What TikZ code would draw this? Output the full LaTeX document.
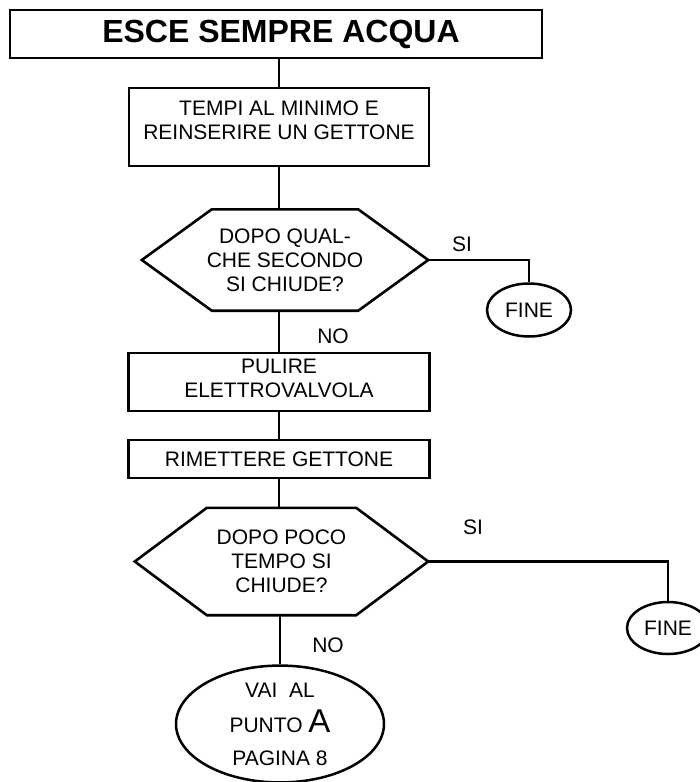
\documentclass[tikz,border=0pt]{standalone}
\usepackage{fontspec}
\setmainfont{Liberation Sans}
\definecolor{inkBlack}{HTML}{000000}
\usepackage{tikz}
\usetikzlibrary{calc, positioning, shapes.geometric}

\tikzset{
  stepbox/.style={draw=inkBlack, line width=2.7pt, align=center, inner sep=0pt,
                  font=\fontsize{21}{24}\selectfont},
  askbox/.style={align=center, inner sep=0pt, font=\fontsize{21}{24}\selectfont},
  askline/.style={draw=inkBlack, line width=2.6pt, line join=miter},
  endcap/.style={ellipse, draw=inkBlack, line width=2.5pt, inner sep=0pt, align=center,
                 font=\fontsize{21}{24}\selectfont},
  flowline/.style={draw=inkBlack, line width=2.3pt},
  branchtag/.style={inner sep=0pt, font=\fontsize{21}{24}\selectfont}
}

\begin{document}
\begin{tikzpicture}[x=1pt, y=-1pt]
  \useasboundingbox (0,0) rectangle (700,782);

  % main column
  \node[stepbox, minimum width=532pt, minimum height=48pt,
        font=\fontsize{32}{36}\selectfont\bfseries] (title) at (276,34) {\hspace{10pt}ESCE SEMPRE ACQUA};
  \node[stepbox, minimum width=300pt, minimum height=78pt] (tempi) at (279,127)
        {TEMPI AL MINIMO E\\REINSERIRE UN GETTONE\rule[-13pt]{0pt}{13pt}};
  \node[askbox, minimum width=286pt, minimum height=101pt] (ask1) at (285,260)
        {DOPO QUAL-\\CHE SECONDO\\SI CHIUDE?};
  \node[stepbox, minimum width=301pt, minimum height=58pt] (pulire) at (279,382)
        {PULIRE\\ELETTROVALVOLA\rule[-8pt]{0pt}{8pt}};
  \node[stepbox, minimum width=301pt, minimum height=38pt] (rimettere) at (279,459)
        {RIMETTERE GETTONE};
  \node[askbox, minimum width=293pt, minimum height=107pt] (ask2) at (281.5,561.5)
        {DOPO POCO\\TEMPO SI\\CHIUDE?};
  \node[endcap, minimum width=208pt, minimum height=116pt] (vai) at (280,724)
        {VAI~~AL\\[11pt]PUNTO {\fontsize{33}{36}\selectfont A}\\[9pt]PAGINA 8};

  % hexagons round the questions
  \draw[askline] (ask1.west) -- ([xshift=70pt]ask1.north west) -- ([xshift=-70pt]ask1.north east)
    -- (ask1.east) -- ([xshift=-70pt]ask1.south east) -- ([xshift=70pt]ask1.south west) -- cycle;
  \draw[askline] (ask2.west) -- ([xshift=72pt]ask2.north west) -- ([xshift=-72pt]ask2.north east)
    -- (ask2.east) -- ([xshift=-72pt]ask2.south east) -- ([xshift=72pt]ask2.south west) -- cycle;

  % side exits
  \node[endcap, minimum width=84pt, minimum height=53pt] (fine1) at (529,310) {FINE};
  \node[endcap, minimum width=82pt, minimum height=52pt] (fine2) at (668,628) {FINE};

  \node[branchtag] (si1) at (462,244) {SI};
  \node[branchtag] (no1) at (333,336) {NO};
  \node[branchtag] (si2) at (473,527) {SI};
  \node[branchtag] (no2) at (328,645) {NO};

  % connectors
  \draw[flowline] (tempi.north |- title.south) -- (tempi.north);
  \draw[flowline] (tempi.south) -- (tempi.south |- ask1.north);
  \draw[flowline] (ask1.east) -| (fine1.north);
  \draw[flowline] (pulire.north |- ask1.south) -- (pulire.north);
  \draw[flowline] (pulire.south) -- (rimettere.north);
  \draw[flowline] (rimettere.south) -- (rimettere.south |- ask2.north);
  \draw[flowline] (ask2.east) -| (fine2.north);
  \draw[flowline] (vai.north |- ask2.south) -- (vai.north);
\end{tikzpicture}
\end{document}
